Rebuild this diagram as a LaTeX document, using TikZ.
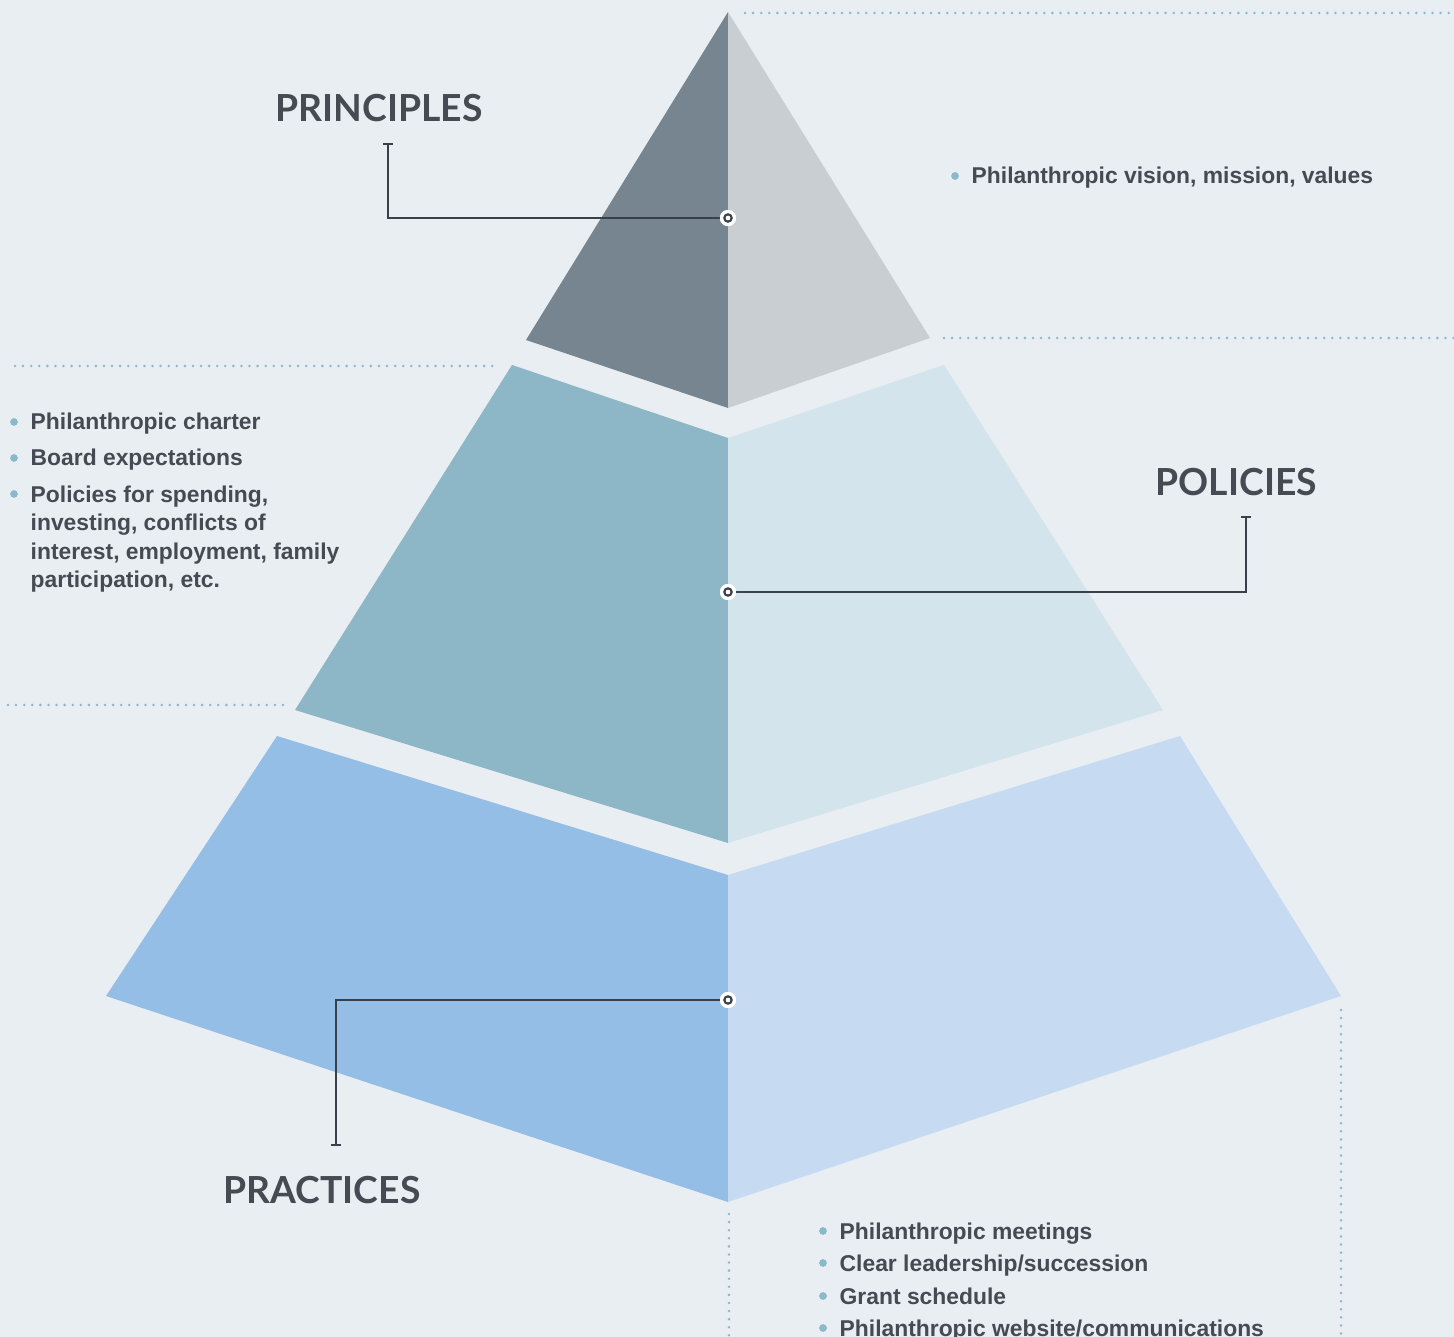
\documentclass[tikz,border=0pt]{standalone}
\usepackage{fontspec}
\setmainfont{Liberation Sans}
\newfontfamily\titlefont{Lato}
\usetikzlibrary{arrows.meta}
\usetikzlibrary{positioning}

\definecolor{bgcol}{HTML}{E9EEF2}
\definecolor{inkcol}{HTML}{454A53}
\definecolor{linecol}{HTML}{3A4049}
\definecolor{dotcol}{HTML}{8AB9CC}
\definecolor{topL}{HTML}{76858F}
\definecolor{topR}{HTML}{C9CED2}
\definecolor{midL}{HTML}{8DB6C7}
\definecolor{midR}{HTML}{D4E4EC}
\definecolor{lowL}{HTML}{94BEE6}
\definecolor{lowR}{HTML}{C6DAF1}

\begin{document}
\begin{tikzpicture}[x=0.01cm, y=-0.01cm]
    \tikzset{
        tier title/.style={anchor=base west, inner sep=0, text=inkcol,
            font=\titlefont\bfseries\fontsize{10.6}{13}\selectfont},
        item/.style={anchor=base west, inner sep=0, text=inkcol, align=left,
            font=\bfseries\fontsize{6.5}{8.1}\selectfont},
        guide/.style={dotcol, line width=0.8pt, line cap=round,
            dash pattern=on 0pt off 2.3pt},
        leader/.style={linecol, line width=0.55pt, -{Bar[width=2.6pt, line width=0.55pt]}},
        hub/.style={circle, fill=white, minimum size=4.6pt, inner sep=0},
        bullet/.style={circle, fill=dotcol, minimum size=2.2pt, inner sep=0}
    }

    \useasboundingbox (0,0) rectangle (1454,1337);
    \fill[bgcol] (0,0) rectangle (1454,1337);

    % pyramid corners
    \coordinate (A) at (728,12);
    \coordinate (B) at (526,340);
    \coordinate (C) at (728,408);
    \coordinate (D) at (930,338);

    \coordinate (E) at (512,365);
    \coordinate (F) at (728,438);
    \coordinate (G) at (944,365);
    \coordinate (H) at (1163,710);
    \coordinate (I) at (728,843);
    \coordinate (J) at (295,710);

    \coordinate (K) at (277,736);
    \coordinate (L) at (728,875);
    \coordinate (M) at (1180,736);
    \coordinate (N) at (1341,996);
    \coordinate (P) at (728,1202);
    \coordinate (Q) at (106,996);

    \fill[topL] (A) -- (B) -- (C) -- cycle;
    \fill[topR] (A) -- (D) -- (C) -- cycle;
    \fill[midL] (E) -- (F) -- (I) -- (J) -- cycle;
    \fill[midR] (F) -- (G) -- (H) -- (I) -- cycle;
    \fill[lowL] (K) -- (L) -- (P) -- (Q) -- cycle;
    \fill[lowR] (L) -- (M) -- (N) -- (P) -- cycle;

    % dotted guides
    \draw[guide] (745,13) -- (1454,13);
    \draw[guide] (944,338) -- (1454,338);
    \draw[guide] (15,366) -- (497,366);
    \draw[guide] (8,705) -- (283,705);
    \draw[guide] (729,1214) -- (729,1337);
    \draw[guide] (1341,1010) -- (1341,1337);

    % leaders
    \coordinate (tPrin) at (388,143);
    \coordinate (tPol) at (1246,516);
    \coordinate (tPrac) at (336,1146);
    \node[hub] (hPrin) at (728,218) {};
    \node[hub] (hPol) at (728,592) {};
    \node[hub] (hPrac) at (728,1000) {};
    \draw[leader] (hPrin.center) -| (tPrin);
    \draw[leader] (hPol.center) -| (tPol);
    \draw[leader] (hPrac.center) -| (tPrac);
    \foreach \h in {hPrin,hPol,hPrac}{
        \node[hub] at (\h) {};
        \draw[linecol, line width=0.6pt] (\h) circle (1.05pt);
    }

    % titles
    \node[tier title] (tiPrin) at (275,122) {PRINCIPLES};
    \node[tier title] (tiPol) at (1155,496) {POLICIES};
    \node[tier title] (tiPrac) at (223,1203) {PRACTICES};

    % principles list
    \node[bullet] (b1) at (955,176) {};
    \node[item] (i1) at (971,184) {Philanthropic vision, mission, values};

    % policies list
    \node[bullet] (b2) at (14,422) {};
    \node[item] (i2) at (30,430) {Philanthropic charter};
    \node[bullet] (b3) at (14,458) {};
    \node[item] (i3) at (30,466) {Board expectations};
    \node[bullet] (b4) at (14,494) {};
    \node[item, anchor=north west] (i4) at (30,485) {Policies for spending,\\investing, conflicts of\\interest, employment, family\\participation, etc.};

    % practices list
    \node[bullet] (b5) at (823,1231) {};
    \node[item] (i5) at (839,1239) {Philanthropic meetings};
    \node[bullet] (b6) at (823,1263) {};
    \node[item] (i6) at (839,1271) {Clear leadership/succession};
    \node[bullet] (b7) at (823,1296) {};
    \node[item] (i7) at (839,1304) {Grant schedule};
    \node[bullet] (b8) at (823,1328) {};
    \node[item] (i8) at (839,1336) {Philanthropic website/communications};

\end{tikzpicture}
\end{document}
